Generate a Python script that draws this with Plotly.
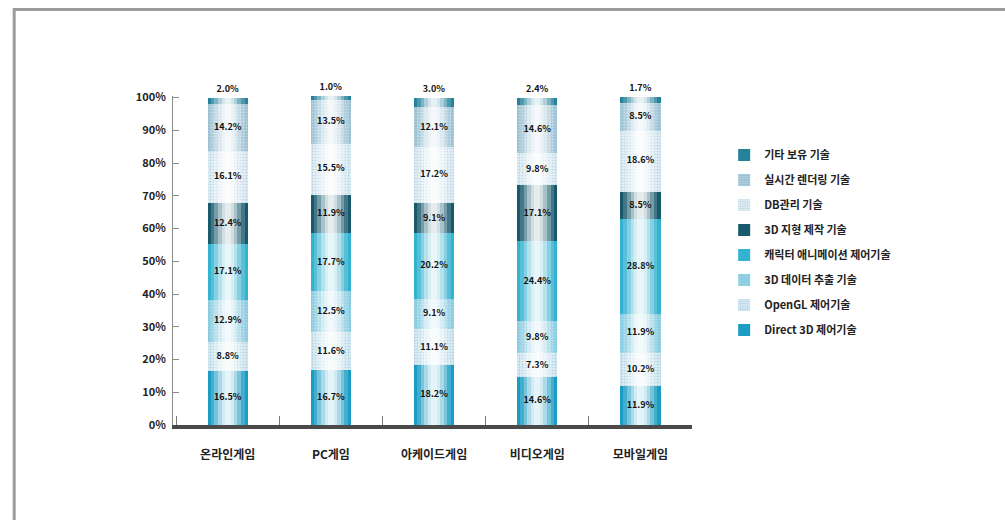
import plotly.graph_objects as go

# Categories (game platforms)
categories = ["온라인게임", "PC게임", "아케이드게임", "비디오게임", "모바일게임"]

# Technology shares (%) per platform, stacked bottom to top
direct3d  = [16.5, 16.7, 18.2, 14.6, 11.9]
opengl    = [8.8, 11.6, 11.1, 7.3, 10.2]
data3d    = [12.9, 12.5, 9.1, 9.8, 11.9]
character = [17.1, 17.7, 20.2, 24.4, 28.8]
terrain3d = [12.4, 11.9, 9.1, 17.1, 8.5]
dbmgmt    = [16.1, 15.5, 17.2, 9.8, 18.6]
realtime  = [14.2, 13.5, 12.1, 14.6, 8.5]
etc       = [2.0, 1.0, 3.0, 2.4, 1.7]

series = [
    ("Direct 3D 제어기술", direct3d, "#1a9cc4", None),
    ("OpenGL 제어기술", opengl, "#d3e9f2", "#aecbdc"),
    ("3D 데이터 추출 기술", data3d, "#86cce1", "#b3d9e7"),
    ("캐릭터 애니메이션 제어기술", character, "#33b3d0", None),
    ("3D 지형 제작 기술", terrain3d, "#185a6c", None),
    ("DB관리 기술", dbmgmt, "#dcecf3", "#b6cfdf"),
    ("실시간 렌더링 기술", realtime, "#9cc1d3", "#c2d9e5"),
    ("기타 보유 기술", etc, "#25829a", None),
]

y_ticks = [0, 10, 20, 30, 40, 50, 60, 70, 80, 90, 100]
y_tick_labels = [f"{v}%" for v in y_ticks]

LABEL_FONT = "Liberation Sans Narrow, Arial Narrow, Noto Sans CJK KR, sans-serif"
KR_FONT = "Noto Sans CJK KR, sans-serif"
VALUE_FONT = dict(family=LABEL_FONT, size=9, color="#111111", weight="bold")

x_range = [-0.53, 4.5]
overlay_axis = dict(type="category", categoryorder="array", categoryarray=categories,
                    range=x_range, overlaying="x", visible=False)

fig = go.Figure()

# Stacked segments; the topmost segment carries its value above the bar
n = len(series)
for idx, (name, vals, color, dots) in enumerate(series):
    marker = dict(color=color, line=dict(width=0))
    if dots:
        marker["pattern"] = dict(shape=".", fgcolor=dots, bgcolor=color,
                                 size=3, solidity=0.25, fillmode="replace")
    top = idx == n - 1
    fig.add_trace(go.Bar(
        x=categories, y=vals, name=name, marker=marker, width=0.39,
        legendgroup=name, legendrank=1000 - idx, hoverinfo="name+y",
        text=[f"{v:.1f}%" for v in vals] if top else None,
        textposition="outside" if top else "none",
        textfont=VALUE_FONT, cliponaxis=False,
    ))

totals = [sum(s[1][i] for s in series) for i in range(len(categories))]

# Cylinder shading: nested translucent white bands down the middle of each bar,
# each on its own overlaid axis so they layer instead of stacking
bands = [(0.33, 0.18), (0.26, 0.28), (0.19, 0.38), (0.12, 0.45), (0.06, 0.45)]
axis_ids = []
for k, (w, op) in enumerate(bands):
    ax = f"x{k + 2}"
    axis_ids.append(ax)
    fig.add_trace(go.Bar(
        x=categories, y=totals, width=w, xaxis=ax,
        marker=dict(color=f"rgba(255,255,255,{op})", line=dict(width=0)),
        showlegend=False, hoverinfo="skip",
    ))

# Value labels centred in each of the lower segments, drawn above the shading
cum = [0.0] * len(categories)
for idx, (name, vals, color, dots) in enumerate(series[:-1]):
    mids = [c + v / 2 for c, v in zip(cum, vals)]
    cum = [c + v for c, v in zip(cum, vals)]
    fig.add_trace(go.Scatter(
        x=categories, y=mids, xaxis=axis_ids[-1],
        mode="text", text=[f"{v:.1f}%" for v in vals],
        textposition="middle center", textfont=VALUE_FONT,
        showlegend=False, hoverinfo="skip", cliponaxis=False,
    ))

fig.update_layout(
    width=1005, height=520,
    barmode="stack",
    plot_bgcolor="white", paper_bgcolor="white",
    margin=dict(l=173, r=313, t=96, b=95),
    font=dict(family=KR_FONT, color="#222222"),
    xaxis=dict(
        type="category", categoryorder="array", categoryarray=categories,
        range=x_range, showgrid=False, zeroline=False,
        showline=True, linecolor="#4a4a4a", linewidth=4,
        ticks="inside", tickson="boundaries", ticklen=9, tickcolor="#777777",
        tickwidth=1,
        tickfont=dict(family=KR_FONT, size=12, color="#222222", weight="bold"),
        ticklabelstandoff=16,
    ),
    yaxis=dict(
        range=[0, 100.5], tickvals=y_ticks, ticktext=y_tick_labels,
        showgrid=False, zeroline=False,
        showline=True, linecolor="#8a8a8a", linewidth=1,
        ticks="inside", ticklen=6, tickcolor="#8a8a8a",
        tickfont=dict(family=LABEL_FONT, size=11, color="#222222", weight="bold"),
        ticklabelstandoff=4,
    ),
    legend=dict(
        x=1.062, y=0.865, xanchor="left", yanchor="top",
        traceorder="grouped", tracegroupgap=6,
        font=dict(family=KR_FONT, size=11, color="#222222", weight="bold"),
        bgcolor="rgba(0,0,0,0)", itemwidth=30,
    ),
    shapes=[
        # page frame along the left and top edges
        dict(type="path", xref="paper", yref="paper",
             path="M -0.306,-0.5 L -0.306,1.263 L 1.7,1.263",
             line=dict(color="#9c9c9c", width=3)),
    ],
)
for ax in axis_ids:
    fig.update_layout({ax.replace("x", "xaxis"): overlay_axis})

fig.write_html("out.html")
